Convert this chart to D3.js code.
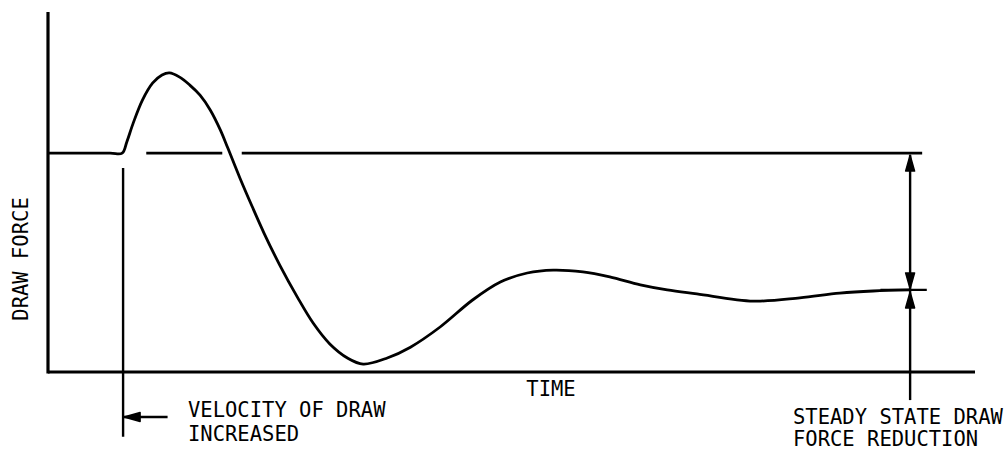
<!DOCTYPE html>
<html>
<head>
<meta charset="utf-8">
<script src="https://cdn.jsdelivr.net/npm/d3@7"></script>
<style>
  body { margin: 0; background: #fff; }
  text { font-family: "DejaVu Sans Mono", "Liberation Mono", monospace; font-size: 20.5px; fill: #000; }
</style>
</head>
<body>
<div id="chart"></div>
<script>
// time (0-100) and draw force (0-100)
var time = [0, 6.7, 8.0, 8.5, 9.2, 10.2, 11.3, 12.3, 13.1, 14.2, 15.3, 16.4, 17.5, 18.6, 19.4,
            20.7, 22.0, 23.3, 25.0, 26.9, 28.6, 30.4, 32.3, 34.0, 36.6, 39.1, 42.3, 45.8,
            48.8, 51.7, 54.5, 57.7, 60.6, 63.9, 66.8, 70.0, 76.1, 81.1, 85.4, 89.0, 93.0]
var force = [60.8, 60.8, 60.8, 63.9, 69.2, 75.6, 80.3, 82.5, 83.1, 81.9, 79.7, 76.9, 72.8, 67.2, 62.2,
             53.9, 46.1, 38.6, 29.7, 20.8, 13.6, 7.8, 3.9, 2.2, 3.9, 6.9, 12.5, 20.0,
             25.0, 27.5, 28.3, 27.8, 26.4, 24.2, 22.8, 21.7, 19.7, 20.6, 21.9, 22.5, 22.8]

var initialForce = 60.8
var steadyForce = 22.8
var baselineSegments = [[10.6, 18.8], [20.9, 94.3]]
var velocityTime = 8.1
var steadyTime = 93.0

var axisLabels = {x: "TIME", y: "DRAW FORCE"}
var velocityNote = ["VELOCITY OF DRAW", "INCREASED"]
var steadyNote = ["STEADY STATE DRAW", "FORCE REDUCTION"]

var width = 1007, height = 450

var svg = d3.select("#chart").append("svg")
    .attr("width", width)
    .attr("height", height)

var x = d3.scaleLinear().domain([0, 100]).range([48, 975])
var y = d3.scaleLinear().domain([0, 100]).range([372, 12])

// axes (plain lines, no ticks)
svg.append("line")
    .attr("x1", x(0)).attr("x2", x(0))
    .attr("y1", y(100)).attr("y2", y(0) + 1.5)
    .attr("stroke", "#000").attr("stroke-width", 3.2)
svg.append("line")
    .attr("x1", x(0)).attr("x2", x(100))
    .attr("y1", y(0)).attr("y2", y(0))
    .attr("stroke", "#000").attr("stroke-width", 3)

// initial force level, broken where the curve passes
svg.selectAll(".base")
    .data(baselineSegments)
    .enter()
    .append("line")
    .attr("class", "base")
    .attr("x1", function(d){ return x(d[0]) })
    .attr("x2", function(d){ return x(d[1]) })
    .attr("y1", y(initialForce)).attr("y2", y(initialForce))
    .attr("stroke", "#000").attr("stroke-width", 2.6)

// steady state level
svg.append("line")
    .attr("x1", x(89.8)).attr("x2", x(94.8))
    .attr("y1", y(steadyForce)).attr("y2", y(steadyForce))
    .attr("stroke", "#000").attr("stroke-width", 2.2)

var points = time.map(function(t, i){ return [t, force[i]] })
var line = d3.line()
    .x(function(d){ return x(d[0]) })
    .y(function(d){ return y(d[1]) })
    .curve(d3.curveCatmullRom.alpha(0.5))

svg.append("path")
    .attr("d", line(points))
    .attr("fill", "none")
    .attr("stroke", "#000")
    .attr("stroke-width", 2.8)
    .attr("stroke-linejoin", "round")

// arrow head: tip at (tx, ty), pointing in direction (dx, dy)
function arrow(tx, ty, dx, dy) {
    var len = 16, half = 4.5
    var bx = tx - dx * len, by = ty - dy * len
    var px = -dy * half, py = dx * half
    svg.append("path")
        .attr("d", "M" + tx + "," + ty +
            "L" + (bx + px) + "," + (by + py) +
            "Q" + (bx) + "," + (by + 0) + " " + (bx - px) + "," + (by - py) + "Z")
        .attr("fill", "#000")
        .attr("stroke", "#000")
        .attr("stroke-width", 1.5)
        .attr("stroke-linejoin", "round")
}

// velocity of draw increased marker
svg.append("line")
    .attr("x1", x(velocityTime)).attr("x2", x(velocityTime))
    .attr("y1", y(56.7)).attr("y2", y(-18))
    .attr("stroke", "#000").attr("stroke-width", 2.4)
svg.append("line")
    .attr("x1", x(velocityTime)).attr("x2", x(12.9))
    .attr("y1", y(-12.5)).attr("y2", y(-12.5))
    .attr("stroke", "#000").attr("stroke-width", 2.4)
arrow(x(velocityTime) + 1, y(-12.5), -1, 0)

// steady state reduction marker
svg.append("line")
    .attr("x1", x(steadyTime)).attr("x2", x(steadyTime))
    .attr("y1", y(60.3)).attr("y2", y(-7.8))
    .attr("stroke", "#000").attr("stroke-width", 2.4)
arrow(x(steadyTime), y(initialForce) + 2, 0, -1)
arrow(x(steadyTime), y(steadyForce) - 1, 0, 1)
arrow(x(steadyTime), y(steadyForce) + 2, 0, -1)

// labels
svg.append("text")
    .attr("x", 551).attr("y", 396)
    .attr("text-anchor", "middle")
    .text(axisLabels.x)

svg.append("text")
    .attr("transform", "translate(28,259) rotate(-90)")
    .attr("text-anchor", "middle")
    .text(axisLabels.y)

svg.selectAll(".vnote")
    .data(velocityNote)
    .enter()
    .append("text")
    .attr("class", "vnote")
    .attr("x", 188)
    .attr("y", function(d, i){ return 417 + i * 24 })
    .text(function(d){ return d })

svg.selectAll(".snote")
    .data(steadyNote)
    .enter()
    .append("text")
    .attr("class", "snote")
    .attr("x", 793)
    .attr("y", function(d, i){ return 424 + i * 22 })
    .text(function(d){ return d })
</script>
</body>
</html>
